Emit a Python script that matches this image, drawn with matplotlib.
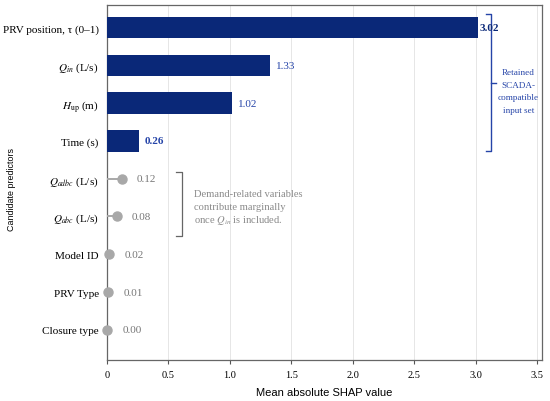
import matplotlib
matplotlib.use("Agg")
import matplotlib.pyplot as plt

plt.rcParams['mathtext.fontset'] = 'stix'
plt.rcParams['font.family'] = ['Liberation Serif', 'DejaVu Serif']

labels = ['PRV position, τ (0–1)', r'$Q_{in}$ (L/s)', r'$H_{\mathrm{up}}$ (m)', 'Time (s)',
          r'$Q_{adbc}$ (L/s)', r'$Q_{abc}$ (L/s)', 'Model ID', 'PRV Type', 'Closure type']
values = [3.02, 1.33, 1.02, 0.26, 0.12, 0.08, 0.02, 0.01, 0.00]
value_text = ['3.02', '1.33', '1.02', '0.26', '0.12', '0.08', '0.02', '0.01', '0.00']
n_bars = 4
xticks = [0, 0.5, 1.0, 1.5, 2.0, 2.5, 3.0, 3.5]
xtick_labels = ['0', '0.5', '1.0', '1.5', '2.0', '2.5', '3.0', '3.5']
demand_note = ['Demand-related variables', 'contribute marginally', 'once $Q_{in}$ is included.']
retained_note = ['Retained', 'SCADA-', 'compatible', 'input set']

navy = '#0a2878'
blue = '#2544a8'
grey = '#a8a8a8'

fig = plt.figure(figsize=(5.5, 4.02), dpi=100)
ax = fig.add_axes([0.1945, 0.102, 0.791, 0.883])

ys = list(range(len(labels)))
for i, (v, t) in enumerate(zip(values, value_text)):
    if i < n_bars:
        ax.barh(i, v, height=0.57, color=navy, zorder=3)
        if i == 0:
            ax.annotate(t, (v, i), xytext=(1, 0), textcoords='offset points',
                        va='center', ha='left', fontsize=8, color=navy, fontweight='bold')
        elif i == 3:
            ax.annotate(t, (v, i), xytext=(4, 0), textcoords='offset points',
                        va='center', ha='left', fontsize=8, color=blue, fontweight='bold')
        else:
            ax.annotate(t, (v, i), xytext=(4, 0), textcoords='offset points',
                        va='center', ha='left', fontsize=8, color=blue)
    else:
        ax.plot([0, v], [i, i], color=grey, lw=1.4, zorder=3, solid_capstyle='butt')
        ax.plot([v], [i], 'o', color=grey, ms=6.5, zorder=4, clip_on=False)
        ax.annotate(t, (v, i), xytext=(11, 0), textcoords='offset points',
                    va='center', ha='left', fontsize=8, color='#777777')

ax.set_yticks(ys)
ax.set_yticklabels(labels, fontsize=8)
ax.set_ylim(8.8, -0.6)
ax.set_xlim(0, 3.54)
ax.set_xticks(xticks)
ax.set_xticklabels(xtick_labels, fontsize=7.5)
ax.tick_params(axis='y', length=0, pad=6)
ax.tick_params(axis='x', length=3, color='#555555', pad=4)
ax.grid(axis='x', color='#e2e2e2', lw=0.6, zorder=0)
ax.set_axisbelow(True)
for s in ax.spines.values():
    s.set_color('#666666')
    s.set_linewidth(0.9)

ax.set_xlabel('Mean absolute SHAP value', fontsize=8, family='Liberation Sans', labelpad=6)
ax.set_ylabel('Candidate predictors', fontsize=6.4, family='Liberation Sans')
ax.yaxis.set_label_coords(-0.208, 0.482)

# demand bracket
bx, y0, y1, stub = 0.61, 3.82, 5.52, 0.05
ax.plot([bx - stub, bx, bx, bx - stub], [y0, y0, y1, y1], color='#666666', lw=0.9, clip_on=False)
for k, line in enumerate(demand_note):
    ax.text(0.71, 4.4 + k * 0.345, line, fontsize=7.6, color='#8a8a8a', va='center', ha='left')

# retained bracket
rx, r0, r1 = 3.125, -0.36, 3.27
ax.plot([rx - 0.04, rx, rx, rx - 0.04], [r0, r0, r1, r1], color=blue, lw=1.0, clip_on=False)
ax.plot([rx, rx + 0.04], [1.47, 1.47], color=blue, lw=1.0, clip_on=False)
for k, line in enumerate(retained_note):
    ax.text(3.35, 1.18 + k * 0.33, line, fontsize=6.6, color=blue,
            va='center', ha='center')

fig.savefig('out.png', dpi=100)
